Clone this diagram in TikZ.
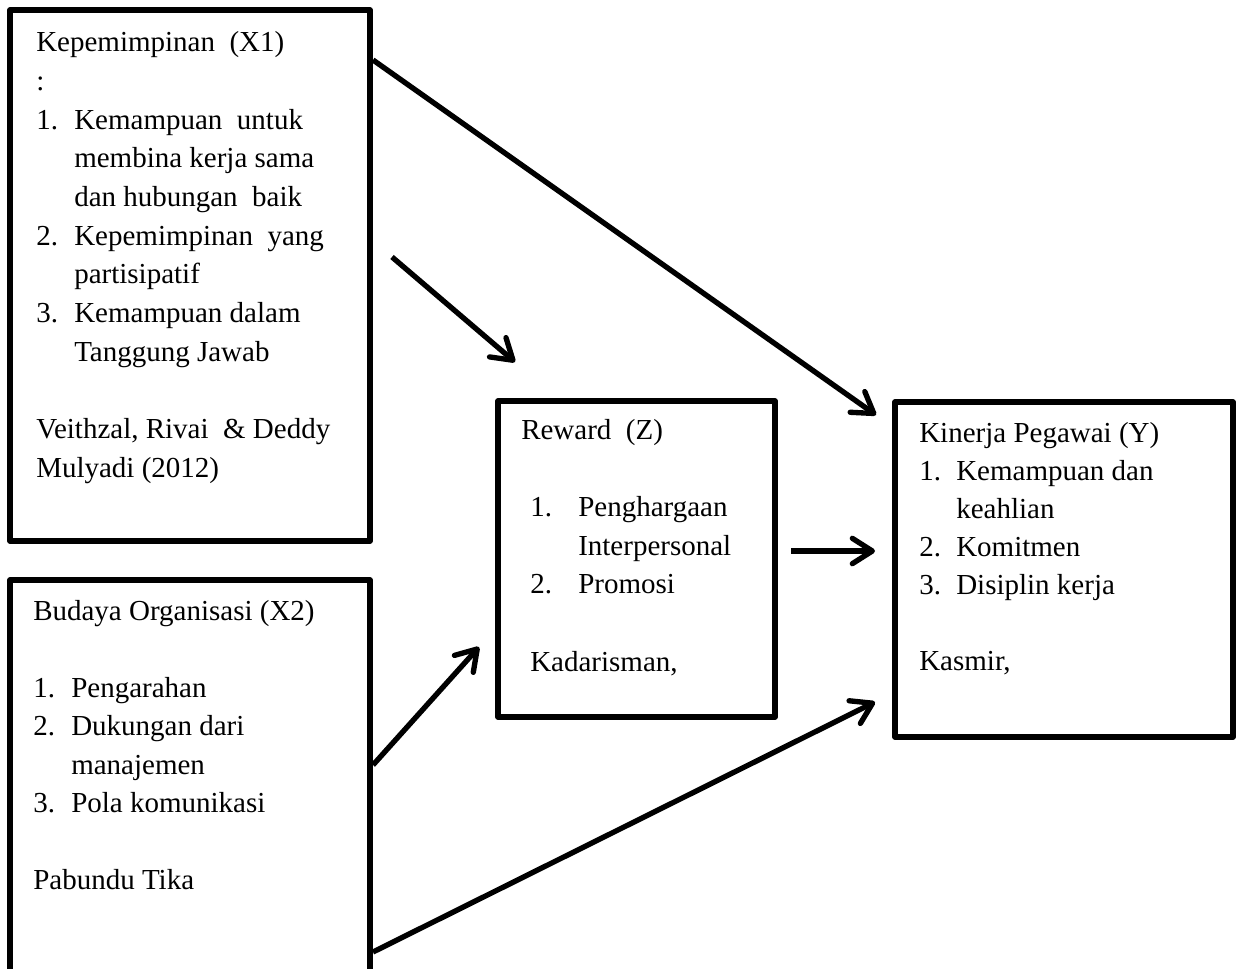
\documentclass[tikz,border=0pt]{standalone}
\usepackage{fontspec}
\setmainfont{Liberation Serif}
\usetikzlibrary{arrows.meta}
\newlength{\numw}
\newcommand{\nitem}[2]{\hbox{\makebox[\numw][l]{#1}#2}}
\newcommand{\contline}[1]{\hbox{\hspace*{\numw}#1}}
\tikzset{
  box/.style={draw, rectangle, line width=3.9pt, line join=round, inner sep=0pt},
  txt/.style={anchor=base west, inner sep=0pt, align=left, font=\fontsize{21.75pt}{28.875pt}\selectfont},
  arr/.style={line width=4pt, -{Straight Barb[length=15pt,width=19pt,round]}}
}
\begin{document}
\begin{tikzpicture}[x=0.75pt,y=-0.75pt]
\useasboundingbox (0,0) rectangle (1241,969);
\clip (0,0) rectangle (1241,969);

% boxes
\node[box, minimum width=270pt, minimum height=398.25pt] (x1) at (190,275.5) {};
\node[box, minimum width=270pt, minimum height=315pt] (x2) at (190,790) {};
\node[box, minimum width=207.75pt, minimum height=237pt] (z) at (636.5,559) {};
\node[box, minimum width=253.5pt, minimum height=251.25pt] (y) at (1064,569.5) {};

% texts
\node[txt] (x1t) at (36,52) {\setlength{\numw}{28.5pt}\vtop{\baselineskip=29pt
  \hbox{Kepemimpinan\ \ (X1)}
  \hbox{:}
  \nitem{1.}{Kemampuan\ \ untuk}
  \contline{membina kerja sama}
  \contline{dan hubungan\ \ baik}
  \nitem{2.}{Kepemimpinan\ \ yang}
  \contline{partisipatif}
  \nitem{3.}{Kemampuan dalam}
  \contline{Tanggung Jawab}
  \hbox{}
  \hbox{Veithzal, Rivai\ \ \& Deddy}
  \hbox{Mulyadi (2012)}}};

\node[txt] (x2t) at (33,620) {\setlength{\numw}{28.5pt}\vtop{\baselineskip=28.875pt
  \hbox{Budaya Organisasi (X2)}
  \hbox{}
  \nitem{1.}{Pengarahan}
  \nitem{2.}{Dukungan dari}
  \contline{manajemen}
  \nitem{3.}{Pola komunikasi}
  \hbox{}
  \hbox{Pabundu Tika}}};

\node[txt] (zt) at (521,440) {\setlength{\numw}{36pt}\vtop{\baselineskip=28.875pt
  \hbox{Reward\ \ (Z)}
  \hbox{}
  \hbox{\hspace*{6.75pt}\makebox[\numw][l]{1.}Penghargaan}
  \hbox{\hspace*{6.75pt}\hspace*{\numw}Interpersonal}
  \hbox{\hspace*{6.75pt}\makebox[\numw][l]{2.}Promosi}
  \hbox{}
  \hbox{\hspace*{6.75pt}Kadarisman,}}};

\node[txt] (yt) at (919,442) {\setlength{\numw}{27.75pt}\vtop{\baselineskip=28.5pt
  \hbox{Kinerja Pegawai (Y)}
  \nitem{1.}{Kemampuan dan}
  \contline{keahlian}
  \nitem{2.}{Komitmen}
  \nitem{3.}{Disiplin kerja}
  \hbox{}
  \hbox{Kasmir,}}};

% connector end points
\coordinate (a1s) at (373,60);
\coordinate (a1e) at (876,415);
\coordinate (a2s) at (392,257);
\coordinate (a2e) at (515,362);
\coordinate (a3s) at (791,551);
\coordinate (a3e) at (875,551);
\coordinate (a4s) at (373,765);
\coordinate (a4e) at (479,647);
\coordinate (a5s) at (373,952);
\coordinate (a5e) at (875,702);

\draw[arr] (a1s) -- (a1e);
\draw[arr] (a2s) -- (a2e);
\draw[arr] (a3s) -- (a3e);
\draw[arr] (a4s) -- (a4e);
\draw[arr] (a5s) -- (a5e);
\end{tikzpicture}
\end{document}
